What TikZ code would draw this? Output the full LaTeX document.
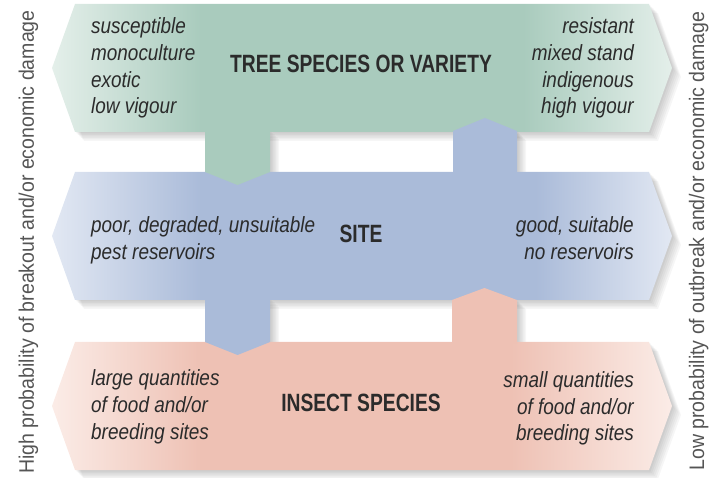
\documentclass[tikz,border=0pt]{standalone}
\usepackage{fontspec}
\setmainfont{Liberation Sans}
\newfontfamily\itfont{Liberation Sans}[FakeStretch=0.86]
\newfontfamily\ttlfont{Liberation Sans}[FakeStretch=0.77]
\newfontfamily\sidefont{Liberation Sans}[FakeStretch=0.93]
\definecolor{gS}{HTML}{A9CBBD}
\definecolor{gL}{HTML}{E4EFEA}
\definecolor{bS}{HTML}{AABBD9}
\definecolor{bL}{HTML}{E2E8F3}
\definecolor{pS}{HTML}{EEC1B4}
\definecolor{pL}{HTML}{FBECE7}
\definecolor{txt}{HTML}{2B2B2B}
\definecolor{sidetxt}{HTML}{555555}
\pgfdeclarehorizontalshading{gshade}{100bp}{color(0bp)=(gL); color(25bp)=(gL); color(37bp)=(gS); color(63bp)=(gS); color(75bp)=(gL); color(100bp)=(gL)}
\pgfdeclarehorizontalshading{bshade}{100bp}{color(0bp)=(bL); color(25bp)=(bL); color(37bp)=(bS); color(64bp)=(bS); color(75bp)=(bL); color(100bp)=(bL)}
\pgfdeclarehorizontalshading{pshade}{100bp}{color(0bp)=(pL); color(25bp)=(pL); color(37bp)=(pS); color(62bp)=(pS); color(75bp)=(pL); color(100bp)=(pL)}
\tikzset{
  greenband/.style={insert path={(75,4) -- (649,4) -- (672,68) -- (649,132) -- (75,132) -- (52,68) -- cycle}},
  blueband/.style={insert path={(75,172) -- (649,172) -- (672,236) -- (649,300) -- (75,300) -- (52,236) -- cycle}},
  pinkband/.style={insert path={(75,342) -- (649,342) -- (672,406) -- (649,470) -- (75,470) -- (52,406) -- cycle}},
  greentab/.style={insert path={(205,130) -- (270,130) -- (270,172) -- (237.5,185) -- (205,172) -- cycle}},
  bluetabup/.style={insert path={(453,174) -- (453,131) -- (485,118) -- (517,131) -- (517,174) -- cycle}},
  bluetabdown/.style={insert path={(205,298) -- (270,298) -- (270,342) -- (237.5,355) -- (205,342) -- cycle}},
  pinktabup/.style={insert path={(452,344) -- (452,300) -- (484.5,288) -- (517,300) -- (517,344) -- cycle}},
  shadowfill/.style={fill=black, fill opacity=0.035},
  itx/.style={font=\itfont\itshape\fontsize{22}{26}\selectfont, text=txt, inner sep=0pt},
  ttl/.style={font=\ttlfont\bfseries\fontsize{25}{30}\selectfont, text=txt, inner sep=0pt, anchor=base},
  side/.style={font=\sidefont\fontsize{21}{25}\selectfont, text=sidetxt, inner sep=0pt, anchor=base, rotate=90}
}
\begin{document}
\begin{tikzpicture}[x=1pt,y=-1pt]
\useasboundingbox (0,0) rectangle (718,478);
% soft shadows
\foreach \s in {1.5,3,4.5,6,7.5,9} {
  \fill[shadowfill, shift={(\s,\s)}, greenband];
  \fill[shadowfill, shift={(\s,\s)}, blueband];
  \fill[shadowfill, shift={(\s,\s)}, pinkband];
  \fill[shadowfill, shift={(\s,\s)}, greentab];
  \fill[shadowfill, shift={(\s,\s)}, bluetabup];
  \fill[shadowfill, shift={(\s,\s)}, bluetabdown];
  \fill[shadowfill, shift={(\s,\s)}, pinktabup];
}
% bands
\shade[shading=gshade, greenband];
\shade[shading=bshade, blueband];
\shade[shading=pshade, pinkband];
% tabs
\fill[gS, greentab];
\fill[bS, bluetabup];
\fill[bS, bluetabdown];
\fill[pS, pinktabup];
% titles
\node[ttl] (tree) at (361,73) {TREE SPECIES OR VARIETY};
\node[ttl] (site) at (361,243) {SITE};
\node[ttl] (insect) at (361,412) {INSECT SPECIES};
% green texts
\node[itx, anchor=base west] (gl1) at (91,34) {susceptible};
\node[itx, anchor=base west] (gl2) at (91,61) {monoculture};
\node[itx, anchor=base west] (gl3) at (91,88) {exotic};
\node[itx, anchor=base west] (gl4) at (91,114) {low vigour};
\node[itx, anchor=base east] (gr1) at (634,34) {resistant};
\node[itx, anchor=base east] (gr2) at (634,61) {mixed stand};
\node[itx, anchor=base east] (gr3) at (634,88) {indigenous};
\node[itx, anchor=base east] (gr4) at (634,114) {high vigour};
% site texts
\node[itx, anchor=base west] (sl1) at (91,233) {poor, degraded, unsuitable};
\node[itx, anchor=base west] (sl2) at (91,260) {pest reservoirs};
\node[itx, anchor=base east] (sr1) at (634,233) {good, suitable};
\node[itx, anchor=base east] (sr2) at (634,260) {no reservoirs};
% insect texts
\node[itx, anchor=base west] (il1) at (91,386) {large quantities};
\node[itx, anchor=base west] (il2) at (91,413) {of food and/or};
\node[itx, anchor=base west] (il3) at (91,439) {breeding sites};
\node[itx, anchor=base east] (ir1) at (634,388) {small quantities};
\node[itx, anchor=base east] (ir2) at (634,414) {of food and/or};
\node[itx, anchor=base east] (ir3) at (634,440) {breeding sites};
% side texts
\node[side] (high) at (34,242) {High probability of breakout and/or economic damage};
\node[side] (low) at (704,241) {Low probability of outbreak and/or economic damage};
\end{tikzpicture}
\end{document}
